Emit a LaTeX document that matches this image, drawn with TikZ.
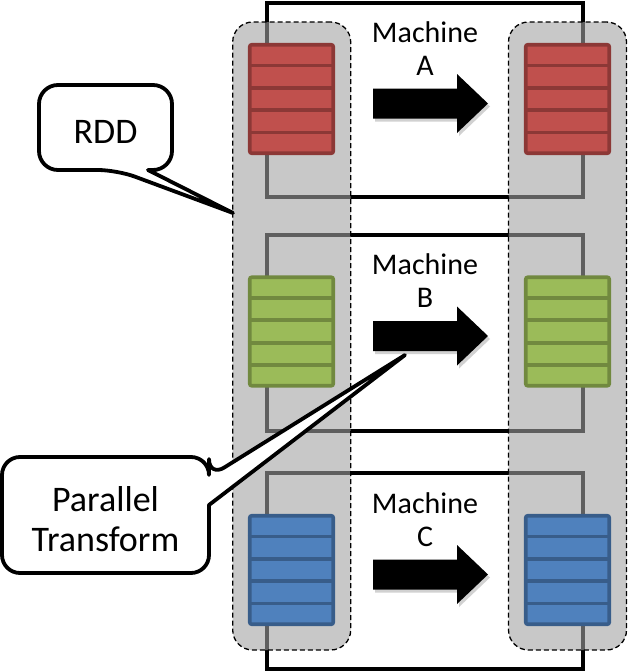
\documentclass[tikz,border=0pt]{standalone}
\usepackage{fontspec}
\setmainfont{Carlito}
\usetikzlibrary{calc}
\definecolor{redF}{HTML}{C0504D}
\definecolor{redD}{HTML}{8C3836}
\definecolor{greenF}{HTML}{9BBB59}
\definecolor{greenD}{HTML}{71893F}
\definecolor{blueF}{HTML}{4F81BD}
\definecolor{blueD}{HTML}{385D8A}
\definecolor{colgray}{rgb}{0.635,0.635,0.635}
\newcommand\mystack[5]{%
  \node[stackbox, fill=#4, draw=#5] (#1) at (#2,#3) {};
  \foreach \k in {1,...,4}
    \draw[draw=#5, line width=3.6pt]
      ($(#1.north west)!\k/5!(#1.south west)$) -- ($(#1.north east)!\k/5!(#1.south east)$);
}
\newcommand\myarrow[2]{%
  \coordinate (#1) at (373,#2);
  \fill[black, opacity=0.18] ([shift={(2,3)}]#1) ++(0,-15) -- ++(84,0) -- ++(0,-14.5) -- ++(31,29.5) -- ++(-31,29.5) -- ++(0,-14.5) -- ++(-84,0) -- cycle;
  \fill[black] (#1) ++(0,-15) -- ++(84,0) -- ++(0,-14.5) -- ++(31,29.5) -- ++(-31,29.5) -- ++(0,-14.5) -- ++(-84,0) -- cycle;
}
\begin{document}
\begin{tikzpicture}[x=1pt,y=-1pt,
  machine/.style={draw=black, line width=3.8pt, inner sep=0pt, minimum width=316.6pt},
  column/.style={draw=black, line width=1.3pt, dash pattern=on 5pt off 3pt, fill=colgray, fill opacity=0.59, rounded corners=20pt, minimum width=118pt, minimum height=628pt, inner sep=0pt},
  stackbox/.style={line width=3.6pt, rounded corners=2pt, minimum width=83.5pt, minimum height=108.5pt, inner sep=0pt},
  mlabel/.style={font=\fontsize{30}{33}\selectfont, align=center, inner sep=0pt},
  callout/.style={draw=black, fill=white, line width=3.8pt, line join=round},
  ctext/.style={font=\fontsize{36}{40}\selectfont, align=center, inner sep=0pt}]
\useasboundingbox (0,0) rectangle (634,672);
% machines
\node[machine, minimum height=194pt] (mA) at (425,100) {};
\node[machine, minimum height=196pt] (mB) at (425,333) {};
\node[machine, minimum height=196pt] (mC) at (425,571) {};
% columns
\node[column] (colL) at (291.7,336) {};
\node[column] (colR) at (567.5,336) {};
% stacks
\mystack{sA1}{291.5}{99}{redF}{redD}
\mystack{sA2}{567.5}{99}{redF}{redD}
\mystack{sB1}{291.5}{331.5}{greenF}{greenD}
\mystack{sB2}{567.5}{331.5}{greenF}{greenD}
\mystack{sC1}{291.5}{570}{blueF}{blueD}
\mystack{sC2}{567.5}{570}{blueF}{blueD}
% arrows
\myarrow{aA}{103.5}
\myarrow{aB}{336}
\myarrow{aC}{574.5}
% labels
\node[mlabel] (lA) at (425,49) {Machine\\A};
\node[mlabel] (lB) at (425,281) {Machine\\B};
\node[mlabel] (lC) at (425,519.5) {Machine\\C};
% callouts
\coordinate (rddtip) at (233,213);
\draw[callout] (148,170) [rounded corners=19pt] -- (172,170) -- (172,85) -- (39,85) -- (39,170) -- (117,170) [sharp corners] -- (rddtip) -- cycle;
\node[ctext] (rdd) at (105.5,131.5) {RDD};
\coordinate (pttip) at (405,355);
\draw[callout] (209,505) [rounded corners=18pt] -- (209,573) -- (2,573) -- (2,457) -- (209,457) -- (209,477) [sharp corners] -- (pttip) -- cycle;
\node[ctext] (pt) at (105.5,519.5) {Parallel\\Transform};
\end{tikzpicture}
\end{document}
